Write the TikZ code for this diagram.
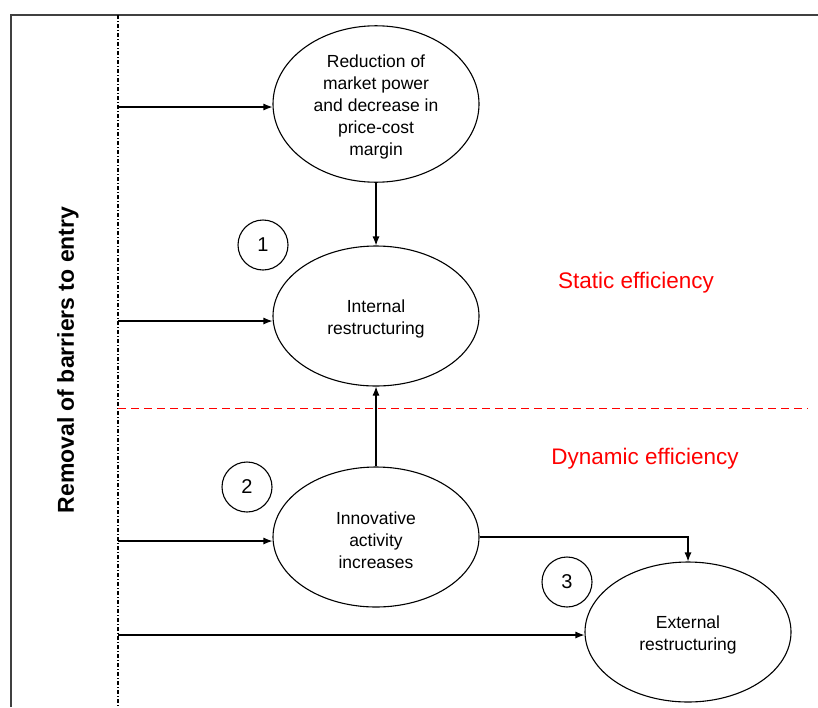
\documentclass[tikz,border=0pt]{standalone}
\usepackage{fontspec}
\setmainfont{Liberation Sans}
\usetikzlibrary{shapes.geometric,arrows.meta}
\tikzset{
  oval/.style={draw, line width=1.1pt, ellipse, minimum width=206pt, minimum height=140pt, inner sep=0pt, align=center, font=\fontsize{17.5}{22}\selectfont},
  num/.style={draw, line width=1.1pt, circle, minimum size=50pt, inner sep=0pt, font=\fontsize{20}{24}\selectfont},
  arr/.style={line width=1.1pt, -{Latex[length=9pt,width=7pt]}},
  eff/.style={text=red, font=\fontsize{22.5}{26}\selectfont}
}
\begin{document}
\begin{tikzpicture}[x=1pt,y=-1pt]
\useasboundingbox (0,0) rectangle (818,707);
% frame
\draw[line width=1.8pt, black!75] (11,707) -- (11,15) -- (818,15);
% dash-dot barrier line
\coordinate (top) at (118,15);
\coordinate (bot) at (118,707);
\draw[line width=1.4pt, dash pattern=on 4pt off 2pt on 1pt off 2pt] (top) -- (bot);
% red dashed separator
\coordinate (r1) at (118,408);
\coordinate (r2) at (808,408);
\draw[red, line width=1pt, dash pattern=on 8pt off 5pt] (r1) -- (r2);
% nodes
\node[oval] (A) at (376,104) {\\[-3pt]Reduction of\\market power\\and decrease in\\price-cost\\margin};
\node[oval] (B) at (376,316) {\\[-3pt]Internal\\restructuring};
\node[oval] (C) at (376,537) {\\[-3pt]Innovative\\activity\\increases};
\node[oval] (D) at (688,632) {\\[-3pt]External\\restructuring};
\node[num] (n1) at (263,245) {1};
\node[num] (n2) at (247,487) {2};
\node[num] (n3) at (567,582) {3};
\node[eff] (st) at (636,283) {Static efficiency};
\node[eff] (dy) at (645,459) {Dynamic efficiency};
\node[rotate=90, font=\bfseries\fontsize{23}{27}\selectfont] (rem) at (68,360) {Removal of barriers to entry};
% start points on barrier line
\coordinate (s1) at (118,107);
\coordinate (s2) at (118,321);
\coordinate (s3) at (118,541);
\coordinate (s4) at (118,635);
\draw[arr] (s1) -- (s1 -| A.west);
\draw[arr] (s2) -- (s2 -| B.west);
\draw[arr] (s3) -- (s3 -| C.west);
\draw[arr] (s4) -- (s4 -| D.west);
\draw[arr] (A.south) -- (B.north);
\draw[arr] (C.north) -- (B.south);
\draw[arr] (C.east) -| (D.north);
\end{tikzpicture}
\end{document}
